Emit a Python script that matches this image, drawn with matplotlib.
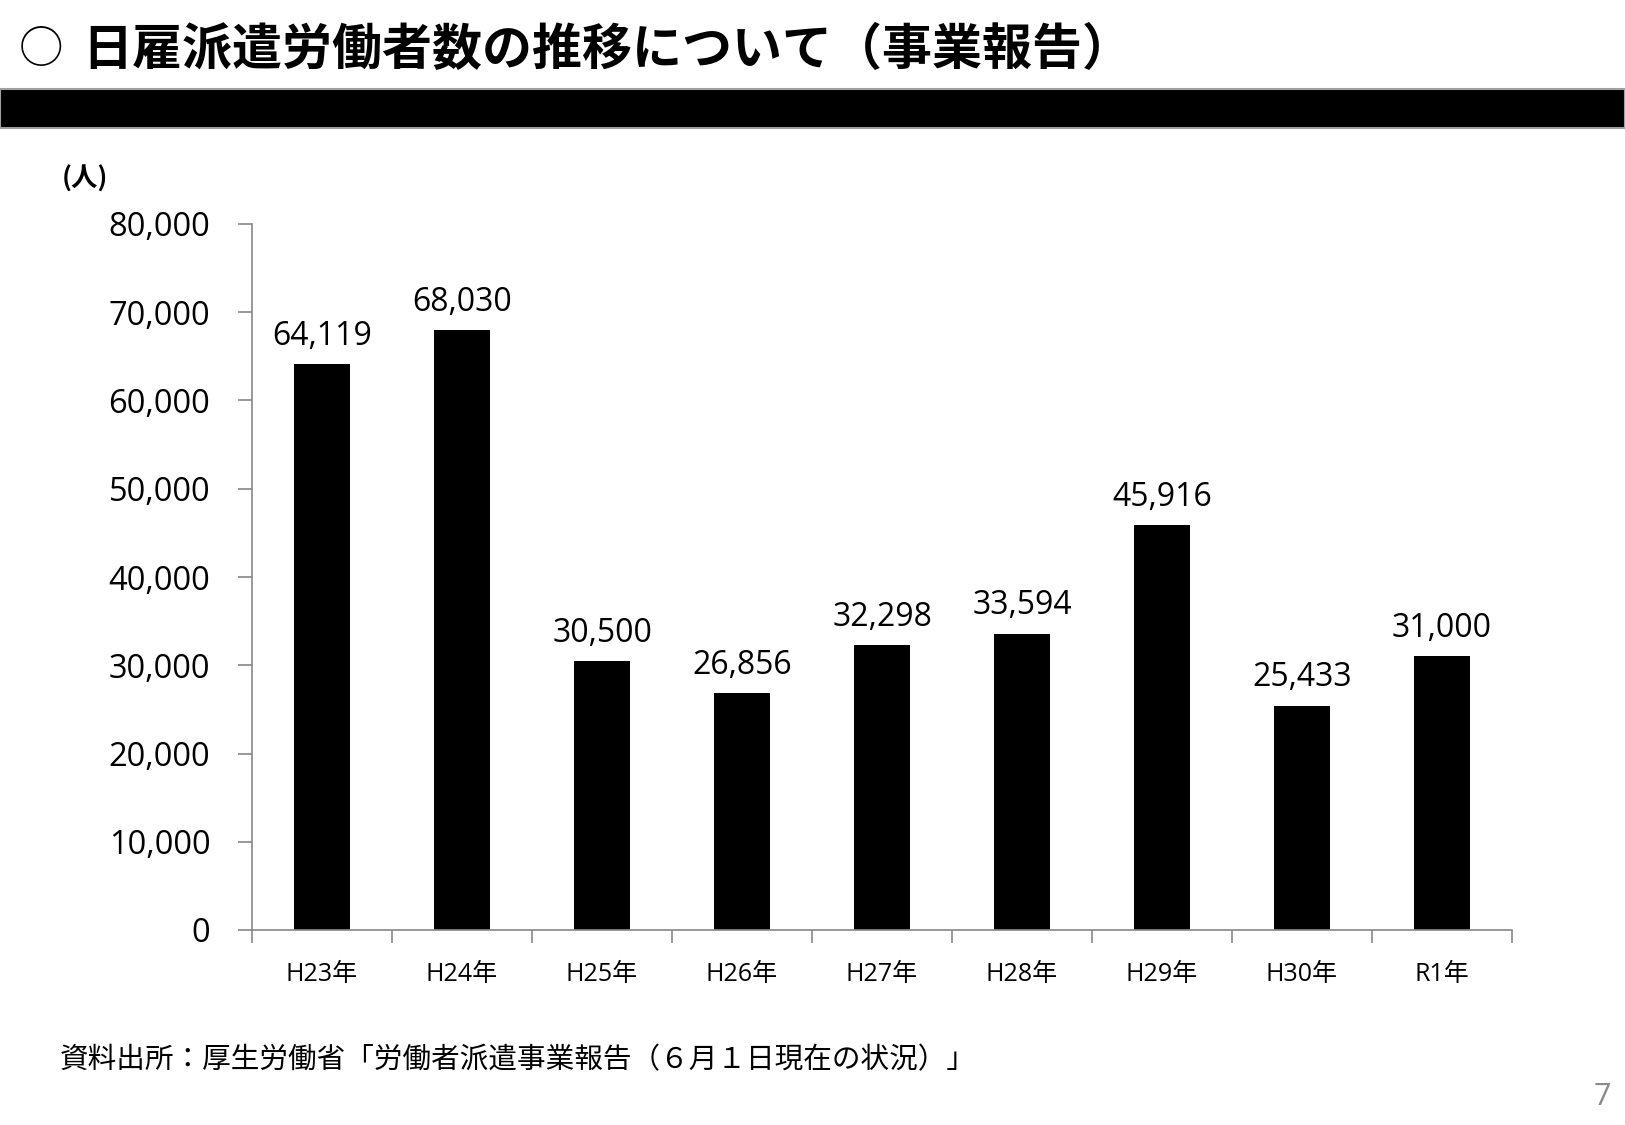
import matplotlib
matplotlib.use('Agg')
import matplotlib.pyplot as plt
from matplotlib.patches import Rectangle
from matplotlib.ticker import FuncFormatter, FixedLocator

plt.rcParams['font.family'] = ['Noto Sans CJK JP', 'DejaVu Sans']
num_font = ['Open Sans', 'Noto Sans CJK JP']

# data
years = ['H23年', 'H24年', 'H25年', 'H26年', 'H27年', 'H28年', 'H29年', 'H30年', 'R1年']
workers = [64119, 68030, 30500, 26856, 32298, 33594, 45916, 25433, 31000]
y_ticks = [0, 10000, 20000, 30000, 40000, 50000, 60000, 70000, 80000]

title = '日雇派遣労働者数の推移について（事業報告）'
source = '資料出所：厚生労働省「労働者派遣事業報告（６月１日現在の状況）」'

W, H = 1625, 1125
fig = plt.figure(figsize=(W / 100, H / 100), dpi=100)

# title and black band
fig.text(19 / W, 1 - 50 / H, '○', fontsize=32, va='center', ha='left')
fig.text(82 / W, 1 - 50 / H, title, fontsize=36, fontweight='bold', va='center', ha='left')
fig.patches.append(Rectangle((0, 1 - 128 / H), 1, 39 / H, transform=fig.transFigure,
                             facecolor='black', edgecolor='#a0a0a0', linewidth=1.5))

ax = fig.add_axes([252 / W, 1 - 930 / H, 1260 / W, 706 / H])
x = list(range(len(years)))
bars = ax.bar(x, workers, width=0.4, color='black')
ax.bar_label(bars, labels=[f'{v:,}' for v in workers], padding=8, fontsize=23, family=num_font)

ax.set_xlim(-0.5, len(years) - 0.5)
ax.set_ylim(0, 80000)
ax.set_yticks(y_ticks)
ax.yaxis.set_major_formatter(FuncFormatter(lambda v, p: f'{int(v):,}'))
ax.tick_params(axis='y', labelsize=23.5, length=10, width=1.2, color='#888888', pad=20)
for lab in ax.get_yticklabels():
    lab.set_family(num_font)

ax.set_xticks(x)
ax.set_xticklabels(years, fontsize=18, family=num_font)
ax.tick_params(axis='x', which='major', length=0, pad=23)
ax.xaxis.set_minor_locator(FixedLocator([i - 0.5 for i in range(len(years) + 1)]))
ax.tick_params(axis='x', which='minor', length=9, width=1.2, color='#888888')

for s in ['top', 'right']:
    ax.spines[s].set_visible(False)
for s in ['left', 'bottom']:
    ax.spines[s].set_color('#888888')
    ax.spines[s].set_linewidth(1.2)

fig.text(62 / W, 1 - 179 / H, '(人)', fontsize=19, fontweight='bold', va='center', ha='left')
fig.text(60 / W, 1 - 1060 / H, source, fontsize=20.6, va='center', ha='left')
fig.text(1611 / W, 1 - 1097 / H, '7', fontsize=22, color='#8a8a8a', va='center', ha='right',
         family=num_font)

fig.savefig('out.png', dpi=100)
